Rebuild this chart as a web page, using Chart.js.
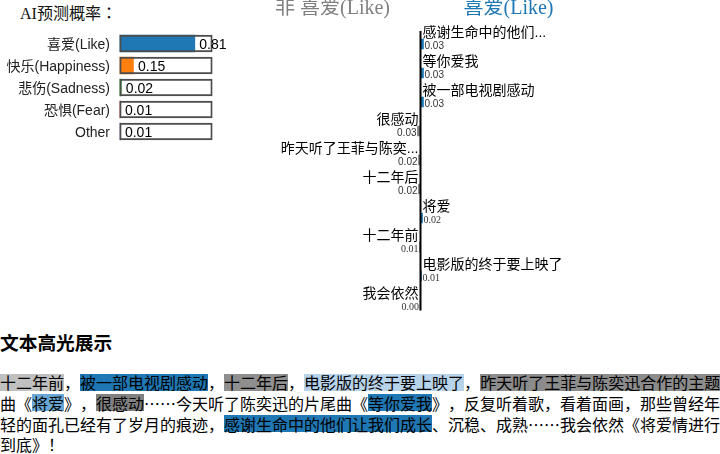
<!DOCTYPE html>
<html><head><meta charset="utf-8">
<script src="https://cdn.jsdelivr.net/npm/chart.js@4/dist/chart.umd.min.js"></script>
<style>
html,body{margin:0;padding:0;background:#fff;width:720px;height:454px;overflow:hidden;position:relative;}
*{text-spacing-trim:space-all;font-feature-settings:"chws" 0;}
#probTitle{position:absolute;left:20px;top:4px;font:16px "Liberation Serif","Noto Sans CJK JP";line-height:20px;color:#111;white-space:nowrap;}
#probCanvas{position:absolute;left:0;top:30px;}
#featCanvas{position:absolute;left:0;top:0;}
#hlTitle{position:absolute;left:0;top:330px;margin:0;font:bold 18.72px "Noto Sans CJK SC";line-height:24px;color:#000;white-space:nowrap;}
#hlText{position:absolute;left:0;top:372px;width:724px;font:16px "Noto Sans CJK SC";line-height:20.8px;color:#000;}
.hl{background-repeat:no-repeat;background-size:100% 17px;background-position:0 50%;}
</style>
</head><body>
<div id="probTitle">AI预测概率：</div>
<canvas id="featCanvas" width="720" height="320"></canvas>
<canvas id="probCanvas" width="250" height="115"></canvas>
<h3 id="hlTitle">文本高光展示</h3>
<div id="hlText"></div>
<script>
// ---- data ----
const classNames = ['喜爱(Like)','快乐(Happiness)','悲伤(Sadness)','恐惧(Fear)','Other'];
const classProbs = [0.81, 0.15, 0.02, 0.01, 0.01];

const featureLabels = ['感谢生命中的他们...','等你爱我','被一部电视剧感动','很感动','昨天听了王菲与陈奕...','十二年后','将爱','十二年前','电影版的终于要上映了','我会依然'];
const featurePhrases = ['感谢生命中的他们让我们成长','等你爱我','被一部电视剧感动','很感动','昨天听了王菲与陈奕迅合作的主题','十二年后','将爱','十二年前','电影版的终于要上映了','我会依然'];
const featureWeights = [0.03, 0.03, 0.03, -0.03, -0.02, -0.02, 0.02, -0.01, 0.01, -0.004];

const sideTitles = ['非 喜爱(Like)', '喜爱(Like)'];
const sectionTitle = '文本高光展示';
const fullText = '十二年前，被一部电视剧感动，十二年后，电影版的终于要上映了，昨天听了王菲与陈奕迅合作的主题曲《将爱》，很感动……今天听了陈奕迅的片尾曲《等你爱我》，反复听着歌，看着面画，那些曾经年轻的面孔已经有了岁月的痕迹，感谢生命中的他们让我们成长、沉稳、成熟……我会依然《将爱情进行到底》！';

// ---- styles ----
const classColors = ['#1f77b4','#ff7f0e','#2ca02c','#d62728','#9467bd'];
const posColor = '#1f77b4', negColor = '#808080';
const highlightColors = ['#1f77b4','#1f77b4','#1f77b4','#808080','#8c8c8c','#8f8f8f','#6aa6d3','#c0c0c0','#b7d3ea', null];
const valueFonts = ['10px "Liberation Sans"','10px "Liberation Sans"','10px "Liberation Sans"','10px "Liberation Sans"','10px "Liberation Sans"','10px "Liberation Sans"','10px "Liberation Serif"','10px "Liberation Serif"','10px "Liberation Serif"','10px "Liberation Serif"'];

// ---- probability chart ----
new Chart(document.getElementById('probCanvas'), {
  type: 'bar',
  data: {
    labels: classNames,
    datasets: [
      {data: classNames.map(() => 1), backgroundColor: 'rgba(0,0,0,0)', borderColor: '#4d4d4d', borderWidth: 1.5, borderSkipped: false, barThickness: 17, grouped: false},
      {data: classProbs, backgroundColor: classColors, borderWidth: 0, barThickness: 17, grouped: false}
    ]
  },
  options: {
    indexAxis: 'y', responsive: false, animation: false, events: [],
    layout: {padding: {left: 119.5, right: 37.5, top: 2.5, bottom: 2.5}},
    plugins: {legend: {display: false}, tooltip: {enabled: false}},
    scales: {x: {display: false, min: 0, max: 1}, y: {display: false}}
  },
  plugins: [{
    id: 'probLabels',
    afterDatasetsDraw(chart) {
      const ctx = chart.ctx, xs = chart.scales.x, ys = chart.scales.y;
      ctx.save();
      ctx.font = '14px "Liberation Sans","Noto Sans CJK SC"';
      ctx.textBaseline = 'alphabetic';
      classNames.forEach((n, i) => {
        const y = ys.getPixelForValue(i);
        ctx.fillStyle = '#222';
        ctx.textAlign = 'right';
        ctx.fillText(n, 110, y + 5);
        ctx.textAlign = 'left';
        ctx.fillStyle = '#000';
        ctx.fillText(classProbs[i].toFixed(2), xs.getPixelForValue(classProbs[i]) + 4.5, y + 5);
      });
      ctx.restore();
    }
  }]
});

// ---- feature weight chart ----
new Chart(document.getElementById('featCanvas'), {
  type: 'bar',
  data: {
    labels: featureLabels,
    datasets: [{
      data: featureWeights,
      backgroundColor: featureWeights.map(w => w >= 0 ? posColor : negColor),
      borderWidth: 0, barThickness: 10
    }]
  },
  options: {
    indexAxis: 'y', responsive: false, animation: false, events: [],
    layout: {padding: {left: 320.5, right: 199.5, top: 29.5, bottom: 0.5}},
    plugins: {legend: {display: false}, tooltip: {enabled: false}},
    scales: {x: {display: false, min: -1, max: 1}, y: {display: false}}
  },
  plugins: [{
    id: 'featLabels',
    afterDatasetsDraw(chart) {
      const ctx = chart.ctx, xs = chart.scales.x, ys = chart.scales.y;
      const x0 = xs.getPixelForValue(0);
      ctx.save();
      // side titles
      ctx.font = '20px "Liberation Serif","Noto Sans CJK SC"';
      ctx.textAlign = 'center';
      ctx.textBaseline = 'alphabetic';
      ctx.fillStyle = '#808080';
      ctx.fillText(sideTitles[0], x0 - 88, 14);
      ctx.fillStyle = posColor;
      ctx.fillText(sideTitles[1], x0 + 88, 14);
      // axis line
      ctx.strokeStyle = '#000';
      ctx.lineWidth = 2;
      ctx.beginPath();
      ctx.moveTo(x0, chart.chartArea.top + 1.5);
      ctx.lineTo(x0, chart.chartArea.top + 281);
      ctx.stroke();
      // labels and values
      featureLabels.forEach((lab, i) => {
        const y = ys.getPixelForValue(i);
        const w = featureWeights[i];
        const xe = xs.getPixelForValue(w);
        ctx.fillStyle = '#000';
        ctx.font = '14px "Liberation Sans","Noto Sans CJK SC"';
        if (w >= 0) {
          ctx.textAlign = 'left';
          ctx.fillText(lab, x0 + 2, y - 7);
        } else {
          ctx.textAlign = 'right';
          ctx.fillText(lab, x0 - 2, y - 7);
        }
        ctx.font = valueFonts[i];
        ctx.fillStyle = '#333';
        const txt = Math.abs(w).toFixed(2);
        if (w >= 0) {
          ctx.textAlign = 'left';
          ctx.fillText(txt, xe + 1, y + 5);
        } else {
          ctx.textAlign = 'right';
          ctx.fillText(txt, xe - 1, y + 5);
        }
      });
      ctx.restore();
    }
  }]
});

// ---- highlighted text ----
(function () {
  const spans = [];
  featurePhrases.forEach((p, i) => {
    if (!highlightColors[i]) return;
    const idx = fullText.indexOf(p);
    if (idx >= 0) spans.push({start: idx, end: idx + p.length, color: highlightColors[i]});
  });
  spans.sort((a, b) => a.start - b.start);
  const box = document.getElementById('hlText');
  let pos = 0;
  spans.forEach(s => {
    if (s.start > pos) box.appendChild(document.createTextNode(fullText.slice(pos, s.start)));
    const sp = document.createElement('span');
    sp.className = 'hl';
    sp.style.backgroundImage = 'linear-gradient(' + s.color + ',' + s.color + ')';
    sp.textContent = fullText.slice(s.start, s.end);
    box.appendChild(sp);
    pos = s.end;
  });
  box.appendChild(document.createTextNode(fullText.slice(pos)));
  document.getElementById('hlTitle').textContent = sectionTitle;
})();
</script>
</body></html>
